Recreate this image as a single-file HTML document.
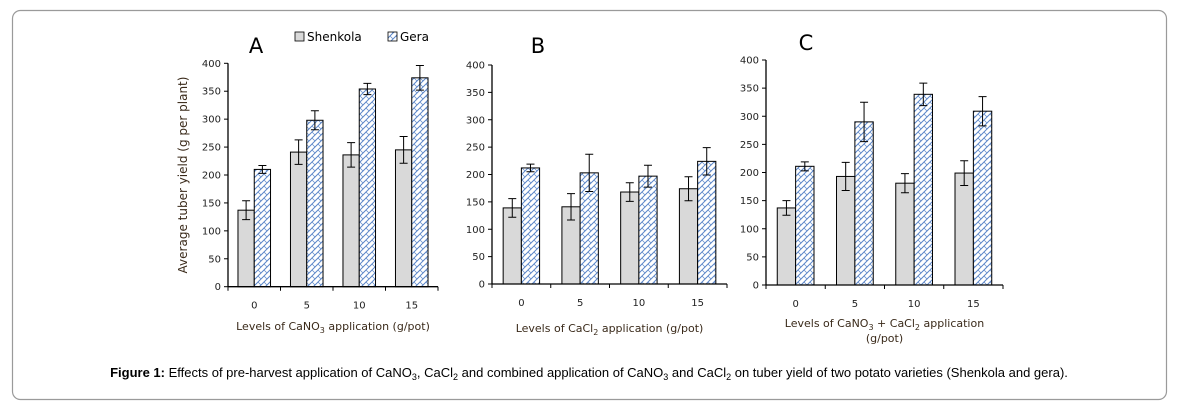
<!DOCTYPE html>
<html><head><meta charset="utf-8">
<style>
body{margin:0;background:#fff;width:1179px;height:412px;overflow:hidden;font-family:"Liberation Sans",sans-serif}
svg text{font-family:"DejaVu Sans","Liberation Sans",sans-serif}
</style></head><body>
<svg id="fig" width="1179" height="412" viewBox="0 0 1179 412" xmlns="http://www.w3.org/2000/svg">
<defs>
<pattern id="hatch" width="6" height="6" patternUnits="userSpaceOnUse">
<rect width="6" height="6" fill="#fff"/>
<path d="M0,6 L6,0 M-1,1 L1,-1 M5,7 L7,5" stroke="#5b86c8" stroke-width="1"/>
<path d="M0,0 L3,3" stroke="#5b86c8" stroke-width="0.7"/>
</pattern>
</defs>
<rect x="12.5" y="10.5" width="1154" height="389" rx="8" fill="none" stroke="#9a9a9a" stroke-width="1.2"/>
<g>
<rect x="295" y="32" width="9" height="9" fill="#d9d9d9" stroke="#000" stroke-width="0.8"/>
<text x="307" y="41" font-size="12" fill="#000">Shenkola</text>
<rect x="388" y="32" width="9" height="9" fill="url(#hatch)" stroke="#000" stroke-width="0.8"/>
<text x="400" y="41" font-size="12" fill="#000">Gera</text>
</g>
<text transform="translate(187,175) rotate(-90)" text-anchor="middle" font-size="12" fill="#3a2a1a">Average tuber yield (g per plant)</text>
<text x="589" y="377" text-anchor="middle" font-size="13" font-family="Liberation Sans" fill="#000" style="font-family:'Liberation Sans',sans-serif"><tspan font-weight="bold">Figure 1:</tspan> Effects of pre-harvest application of CaNO<tspan font-size="9" dy="3">3</tspan><tspan dy="-3">, CaCl</tspan><tspan font-size="9" dy="3">2</tspan><tspan dy="-3"> and combined application of CaNO</tspan><tspan font-size="9" dy="3">3</tspan><tspan dy="-3"> and CaCl</tspan><tspan font-size="9" dy="3">2</tspan><tspan dy="-3"> on tuber yield of two potato varieties (Shenkola and gera).</tspan></text>
</svg>
<script>
const categories = ["0","5","10","15"];
const yTicks = [0,50,100,150,200,250,300,350,400];
const shenkolaA = [137,241,236,245];
const shenkolaAErr = [17,22,22,24];
const geraA = [210,298,354,374];
const geraAErr = [7,17,10,22];
const shenkolaB = [139,141,168,174];
const shenkolaBErr = [17,24,17,22];
const geraB = [212,203,197,224];
const geraBErr = [7,34,20,25];
const shenkolaC = [137,193,181,199];
const shenkolaCErr = [13,25,17,22];
const geraC = [211,290,339,309];
const geraCErr = [8,35,20,26];

const NS="http://www.w3.org/2000/svg";
const svg=document.getElementById('fig');
function mk(tag,attrs,parent){const e=document.createElementNS(NS,tag);for(const k in attrs)e.setAttribute(k,attrs[k]);(parent||svg).appendChild(e);return e;}

function panel(id,letter,lx,ly,x0,x1,yTop,yBot,s,se,g,ge,titleParts,titleY,title2){
  const grp=mk('g',{});
  
  
  const yScale=v=>yBot-(v/400)*(yBot-yTop);
  const cw=(x1-x0)/categories.length;
  const xc=i=>x0+cw*(i+0.5);
  const bw=cw*0.31;
  const L=mk('text',{x:lx,y:ly,'font-size':21,fill:'#000','text-anchor':'middle'},grp);L.textContent=letter;
  
  
  // y axis
  const ya=mk('line',{x1:x0,x2:x0,y1:yTop,y2:yBot,stroke:'#000','stroke-width':1.3},grp);
  
  
  yTicks.forEach(t=>{
    const y=yScale(t);
    mk('line',{x1:x0-4,x2:x0,y1:y,y2:y,stroke:'#000','stroke-width':1},grp);
    const tx=mk('text',{x:x0-7,y:y+3.5,'font-size':10,'text-anchor':'end',fill:'#222'},grp);
    tx.textContent=t;
    
    
  });
  categories.forEach((c,i)=>{
    const xs=xc(i)-bw, xg=xc(i);
    const r1=mk('rect',{x:xs,y:yScale(s[i]),width:bw,height:yBot-yScale(s[i]),fill:'#d9d9d9',stroke:'#000','stroke-width':1},grp);
    
    
    const r2=mk('rect',{x:xg,y:yScale(g[i]),width:bw,height:yBot-yScale(g[i]),fill:'url(#hatch)',stroke:'#000','stroke-width':1},grp);
    
    
    [[xs+bw/2,s[i],se[i]],[xg+bw/2,g[i],ge[i]]].forEach(([cx,v,e])=>{
      const eg=mk('path',{d:`M${cx},${yScale(v+e)}V${yScale(v-e)}M${cx-4},${yScale(v+e)}H${cx+4}M${cx-4},${yScale(v-e)}H${cx+4}`,stroke:'#000','stroke-width':1,fill:'none'},grp);
      
      
    });
    const tl=mk('text',{x:xc(i),y:yBot+22,'font-size':10,'text-anchor':'middle',fill:'#222'},grp);
    tl.textContent=c;
    
    
  });
  const xa=mk('line',{x1:x0,x2:x1,y1:yBot,y2:yBot,stroke:'#000','stroke-width':1.3},grp);
  
  
  for(let i=0;i<=categories.length;i++){mk('line',{x1:x0+cw*i,x2:x0+cw*i,y1:yBot,y2:yBot+4,stroke:'#000','stroke-width':1},grp);}
  const tt=mk('text',{x:(x0+x1)/2,y:titleY,'font-size':11,'text-anchor':'middle',fill:'#3a2a1a'},grp);
  tt.innerHTML=titleParts;
  
  
  if(title2){const t2=mk('text',{x:(x0+x1)/2,y:titleY+15,'font-size':11,'text-anchor':'middle',fill:'#3a2a1a'},grp);t2.textContent=title2;
    
    }
}
panel('a','A',256,53,228,438,63.3,286.7,shenkolaA,shenkolaAErr,geraA,geraAErr,'Levels of CaNO<tspan font-size="8" dy="3">3</tspan><tspan dy="-3"> application (g/pot)</tspan>',330);
panel('b','B',538,53,492,727,65,284,shenkolaB,shenkolaBErr,geraB,geraBErr,'Levels of CaCl<tspan font-size="8" dy="3">2</tspan><tspan dy="-3"> application (g/pot)</tspan>',332);
panel('c','C',806,50,766,1003,60,285,shenkolaC,shenkolaCErr,geraC,geraCErr,'Levels of CaNO<tspan font-size="8" dy="3">3</tspan><tspan dy="-3"> + CaCl</tspan><tspan font-size="8" dy="3">2</tspan><tspan dy="-3"> application</tspan>',327,'(g/pot)');
</script>
</body></html>
